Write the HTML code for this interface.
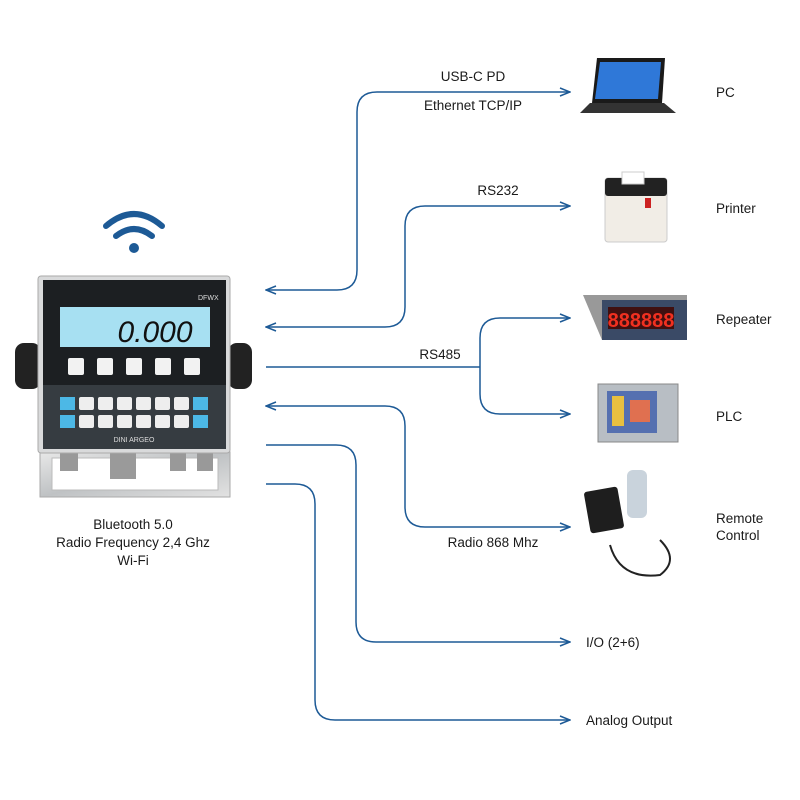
<!DOCTYPE html>
<html><head><style>
body{margin:0;background:#fff;}
svg{display:block;font-family:"Liberation Sans",sans-serif;}
</style></head><body>
<svg width="800" height="800" viewBox="0 0 800 800" xmlns="http://www.w3.org/2000/svg">
<defs>
<marker id="a" markerWidth="12" markerHeight="10" refX="11" refY="5" orient="auto-start-reverse" markerUnits="userSpaceOnUse">
<path d="M1,1 L11,5 L1,9" fill="none" stroke="#1d5a96" stroke-width="1.5"/>
</marker>
<linearGradient id="steel" x1="0" y1="0" x2="1" y2="1"><stop offset="0" stop-color="#e8e8e8"/><stop offset="0.5" stop-color="#bfc2c4"/><stop offset="1" stop-color="#e2e2e2"/></linearGradient>
</defs>
<g fill="none" stroke="#1d5a96" stroke-width="1.5">
<path d="M570,92 H377 Q357,92 357,112 V270 Q357,290 337,290 H266" marker-start="url(#a)" marker-end="url(#a)"/>
<path d="M570,206 H425 Q405,206 405,226 V307 Q405,327 385,327 H266" marker-start="url(#a)" marker-end="url(#a)"/>
<path d="M266,367 H480"/>
<path d="M570,318 H500 Q480,318 480,338 V394 Q480,414 500,414 H570" marker-start="url(#a)" marker-end="url(#a)"/>
<path d="M266,406 H385 Q405,406 405,426 V507 Q405,527 425,527 H570" marker-start="url(#a)" marker-end="url(#a)"/>
<path d="M266,445 H336 Q356,445 356,465 V622 Q356,642 376,642 H570" marker-end="url(#a)"/>
<path d="M266,484 H295 Q315,484 315,504 V700 Q315,720 335,720 H570" marker-end="url(#a)"/>
</g>
<g font-size="13.5" fill="#1a1a1a" text-anchor="middle">
<text x="473" y="81">USB-C PD</text>
<text x="473" y="110">Ethernet TCP/IP</text>
<text x="498" y="195">RS232</text>
<text x="440" y="359">RS485</text>
<text x="493" y="547">Radio 868 Mhz</text>
<text x="133" y="529">Bluetooth 5.0</text>
<text x="133" y="547">Radio Frequency 2,4 Ghz</text>
<text x="133" y="565">Wi-Fi</text>
</g>
<g font-size="13.5" fill="#1a1a1a">
<text x="716" y="97">PC</text>
<text x="716" y="213">Printer</text>
<text x="716" y="324">Repeater</text>
<text x="716" y="421">PLC</text>
<text x="716" y="523">Remote</text>
<text x="716" y="540">Control</text>
<text x="586" y="647">I/O (2+6)</text>
<text x="586" y="725">Analog Output</text>
</g>
<!-- wifi -->
<g fill="none" stroke="#1d5a96" stroke-width="6" stroke-linecap="round">
<path d="M106,226 Q134,202 162,226"/>
<path d="M116,236 Q134,222 152,236"/>
</g>
<circle cx="134" cy="248" r="5" fill="#1d5a96"/>
<!-- device -->
<rect x="15" y="343" width="26" height="46" rx="9" fill="#222"/>
<rect x="228" y="343" width="24" height="46" rx="9" fill="#222"/>
<path d="M40,452 H230 V497 H40 Z" fill="url(#steel)" stroke="#aaa"/>
<rect x="52" y="458" width="166" height="32" fill="#fff" stroke="#bbb"/>
<rect x="60" y="453" width="18" height="18" fill="#999"/><rect x="110" y="453" width="26" height="26" fill="#9a9a9a"/><rect x="170" y="453" width="16" height="18" fill="#999"/><rect x="197" y="453" width="16" height="18" fill="#999"/>
<rect x="38" y="276" width="192" height="177" rx="3" fill="#d9dadb" stroke="#aaa"/>
<rect x="43" y="280" width="183" height="105" fill="#1c1f22"/>
<rect x="43" y="385" width="183" height="64" fill="#363c41"/>
<rect x="60" y="307" width="150" height="40" fill="#a7e0f2"/>
<text x="155" y="342" font-size="30" font-style="italic" fill="#111" text-anchor="middle">0.000</text>
<text x="198" y="300" font-size="7" fill="#ddd">DFWX</text>
<g fill="#f2f2f2">
<rect x="68" y="358" width="16" height="17" rx="2"/><rect x="97" y="358" width="16" height="17" rx="2"/><rect x="126" y="358" width="16" height="17" rx="2"/><rect x="155" y="358" width="16" height="17" rx="2"/><rect x="184" y="358" width="16" height="17" rx="2"/>
</g>
<g fill="#eee">
<rect x="79" y="397" width="15" height="13" rx="2"/><rect x="98" y="397" width="15" height="13" rx="2"/><rect x="117" y="397" width="15" height="13" rx="2"/><rect x="136" y="397" width="15" height="13" rx="2"/><rect x="155" y="397" width="15" height="13" rx="2"/><rect x="174" y="397" width="15" height="13" rx="2"/>
<rect x="79" y="415" width="15" height="13" rx="2"/><rect x="98" y="415" width="15" height="13" rx="2"/><rect x="117" y="415" width="15" height="13" rx="2"/><rect x="136" y="415" width="15" height="13" rx="2"/><rect x="155" y="415" width="15" height="13" rx="2"/><rect x="174" y="415" width="15" height="13" rx="2"/>
</g>
<rect x="60" y="397" width="15" height="13" fill="#4cb8e6"/><rect x="60" y="415" width="15" height="13" fill="#4cb8e6"/><rect x="193" y="397" width="15" height="13" fill="#4cb8e6"/><rect x="193" y="415" width="15" height="13" fill="#4cb8e6"/>
<text x="134" y="442" font-size="7" fill="#ddd" text-anchor="middle">DINI ARGEO</text>
<!-- laptop -->
<path d="M597,58 H665 L662,103 H592 Z" fill="#1a1a1a"/><path d="M600,62 H661 L658,99 H595 Z" fill="#2f78d8"/>
<path d="M590,103 H664 L676,113 H580 Z" fill="#333"/>
<!-- printer -->
<rect x="605" y="178" width="62" height="64" rx="3" fill="#f1ede6" stroke="#ccc"/><rect x="605" y="178" width="62" height="18" rx="3" fill="#222"/><rect x="622" y="172" width="22" height="12" fill="#fff" stroke="#ccc"/><rect x="645" y="198" width="6" height="10" fill="#c22"/>
<!-- repeater -->
<path d="M583,295 H687 V340 H602 Z" fill="#999"/><rect x="602" y="300" width="85" height="40" fill="#3a4a66"/><rect x="608" y="307" width="66" height="22" fill="#401010"/><text x="641" y="327" font-size="20" fill="#f03020" text-anchor="middle" font-weight="bold">888888</text>
<!-- PLC -->
<rect x="598" y="384" width="80" height="58" fill="#b8bec4" stroke="#888"/><rect x="607" y="391" width="50" height="42" fill="#5570b0"/><rect x="612" y="396" width="12" height="30" fill="#e8c040"/><rect x="630" y="400" width="20" height="22" fill="#e07050"/>
<!-- remote -->
<rect x="587" y="489" width="34" height="42" rx="3" fill="#1e1e1e" transform="rotate(-10 604 510)"/>
<rect x="627" y="470" width="20" height="48" rx="6" fill="#c9d3dc"/>
<path d="M610,545 Q620,580 660,575 Q680,560 660,540" fill="none" stroke="#222" stroke-width="2"/>
</svg>
</body></html>
